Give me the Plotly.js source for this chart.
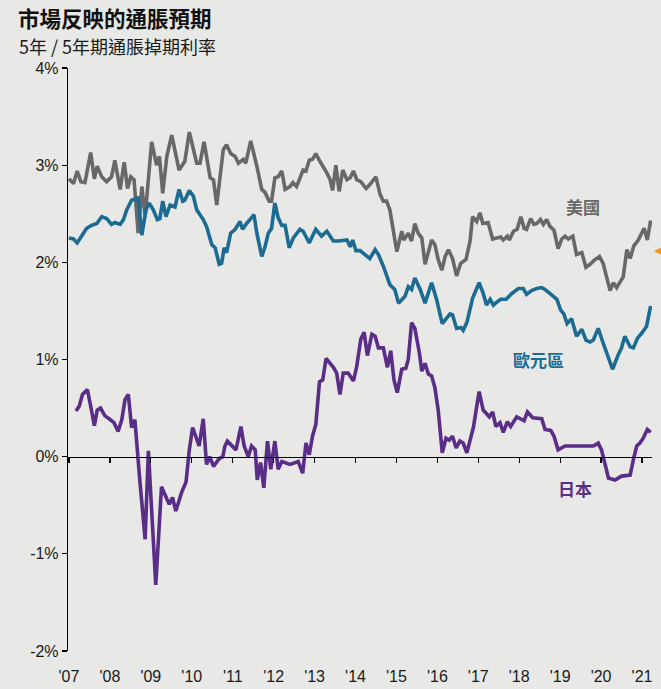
<!DOCTYPE html>
<html>
<head>
<meta charset="utf-8">
<script src="https://cdn.plot.ly/plotly-3.0.1.min.js"></script>
<style>
html,body{margin:0;padding:0;background:#e8e8e6;}
#chart{width:661px;height:689px;}
</style>
</head>
<body>
<div id="chart"></div>
<script>
// ---- Data (5y5y inflation swap rates, %) ----
const usYears = [2007.00,2007.11,2007.20,2007.29,2007.39,2007.53,2007.62,2007.69,2007.80,2007.92,2008.04,2008.12,2008.25,2008.35,2008.43,2008.51,2008.59,2008.69,2008.78,2008.86,2009.02,2009.14,2009.21,2009.29,2009.39,2009.51,2009.69,2009.83,2009.94,2010.12,2010.20,2010.30,2010.45,2010.53,2010.61,2010.77,2010.85,2010.95,2011.06,2011.14,2011.26,2011.32,2011.44,2011.59,2011.71,2011.79,2011.89,2011.95,2012.03,2012.11,2012.20,2012.28,2012.40,2012.47,2012.56,2012.72,2012.79,2012.87,2012.95,2013.03,2013.13,2013.30,2013.38,2013.44,2013.52,2013.60,2013.69,2013.79,2013.87,2013.95,2014.03,2014.13,2014.26,2014.35,2014.50,2014.60,2014.68,2014.76,2014.84,2015.01,2015.13,2015.18,2015.29,2015.37,2015.45,2015.53,2015.62,2015.70,2015.86,2015.94,2016.02,2016.11,2016.19,2016.27,2016.37,2016.47,2016.57,2016.70,2016.80,2016.86,2016.96,2017.04,2017.11,2017.24,2017.35,2017.45,2017.55,2017.61,2017.71,2017.76,2017.86,2017.95,2018.04,2018.12,2018.18,2018.28,2018.36,2018.43,2018.52,2018.59,2018.67,2018.75,2018.85,2018.95,2019.04,2019.12,2019.20,2019.31,2019.40,2019.53,2019.63,2019.73,2019.83,2019.96,2020.05,2020.14,2020.22,2020.30,2020.38,2020.54,2020.63,2020.71,2020.80,2020.91,2021.05,2021.13,2021.21];
const usValues = [2.86,2.81,2.94,2.83,2.82,3.13,2.86,2.99,2.88,2.83,2.88,3.05,2.75,3.03,2.76,2.88,2.85,2.30,2.78,2.47,3.24,3.00,3.09,2.71,3.09,3.31,2.95,3.04,3.34,3.02,3.02,3.24,2.87,2.85,2.59,3.16,3.21,3.12,3.09,3.02,3.06,3.02,3.25,2.99,2.75,2.72,2.63,2.63,2.87,2.88,2.94,2.75,2.78,2.82,2.78,2.95,2.94,3.05,3.06,3.12,3.04,2.92,2.85,2.74,3.00,2.73,2.95,2.85,2.87,2.94,2.85,2.83,2.76,2.80,2.88,2.70,2.63,2.63,2.54,2.11,2.32,2.23,2.30,2.22,2.40,2.30,2.25,1.98,2.23,2.18,2.03,1.92,2.06,2.13,2.04,1.86,1.99,2.03,2.22,2.47,2.42,2.51,2.40,2.41,2.24,2.25,2.26,2.23,2.27,2.23,2.32,2.34,2.47,2.35,2.34,2.45,2.39,2.40,2.44,2.39,2.44,2.37,2.33,2.14,2.24,2.27,2.24,2.27,2.08,2.10,1.95,1.98,2.02,2.06,1.99,1.84,1.71,1.79,1.74,1.85,2.13,2.04,2.17,2.23,2.35,2.23,2.43];

const euYears = [2007.00,2007.11,2007.20,2007.31,2007.43,2007.55,2007.68,2007.80,2007.92,2008.04,2008.12,2008.25,2008.33,2008.41,2008.53,2008.69,2008.78,2008.88,2008.96,2009.06,2009.16,2009.22,2009.29,2009.37,2009.47,2009.59,2009.69,2009.78,2009.83,2009.94,2010.04,2010.12,2010.28,2010.36,2010.49,2010.57,2010.67,2010.73,2010.79,2010.85,2010.95,2011.06,2011.18,2011.24,2011.34,2011.42,2011.52,2011.59,2011.71,2011.79,2011.87,2011.95,2012.03,2012.11,2012.20,2012.28,2012.38,2012.48,2012.64,2012.72,2012.87,2013.03,2013.17,2013.30,2013.46,2013.58,2013.79,2013.87,2013.93,2014.01,2014.11,2014.23,2014.35,2014.48,2014.56,2014.68,2014.84,2014.96,2015.05,2015.21,2015.29,2015.37,2015.45,2015.58,2015.70,2015.86,2015.98,2016.12,2016.31,2016.37,2016.47,2016.57,2016.63,2016.72,2016.86,2017.02,2017.12,2017.20,2017.29,2017.37,2017.45,2017.55,2017.68,2017.82,2017.98,2018.10,2018.18,2018.30,2018.43,2018.55,2018.63,2018.75,2018.92,2019.01,2019.09,2019.17,2019.28,2019.40,2019.53,2019.63,2019.73,2019.81,2019.93,2020.05,2020.28,2020.42,2020.50,2020.58,2020.71,2020.79,2020.89,2020.99,2021.11,2021.21];
const euValues = [2.25,2.24,2.20,2.27,2.35,2.38,2.40,2.47,2.45,2.39,2.41,2.39,2.44,2.54,2.64,2.66,2.28,2.54,2.61,2.54,2.44,2.45,2.63,2.47,2.59,2.57,2.75,2.63,2.64,2.74,2.68,2.54,2.44,2.37,2.18,2.15,1.98,1.99,2.15,2.10,2.30,2.34,2.42,2.34,2.40,2.44,2.49,2.30,2.06,2.16,2.30,2.35,2.61,2.46,2.38,2.38,2.15,2.25,2.34,2.32,2.20,2.34,2.27,2.32,2.22,2.22,2.23,2.16,2.23,2.12,2.12,2.08,2.04,2.13,2.08,1.96,1.77,1.72,1.58,1.65,1.75,1.72,1.84,1.72,1.58,1.79,1.62,1.37,1.47,1.46,1.32,1.33,1.30,1.38,1.63,1.79,1.68,1.56,1.62,1.56,1.59,1.62,1.62,1.68,1.73,1.73,1.67,1.71,1.73,1.74,1.72,1.68,1.62,1.51,1.47,1.37,1.42,1.24,1.31,1.20,1.18,1.20,1.32,1.17,0.90,1.05,1.12,1.24,1.13,1.12,1.22,1.27,1.34,1.55];

const jpYears = [2007.17,2007.25,2007.33,2007.45,2007.53,2007.62,2007.69,2007.77,2007.88,2007.98,2008.10,2008.20,2008.29,2008.37,2008.45,2008.53,2008.61,2008.73,2008.86,2008.94,2009.12,2009.26,2009.45,2009.53,2009.61,2009.75,2009.86,2009.94,2010.02,2010.18,2010.28,2010.36,2010.44,2010.53,2010.67,2010.76,2010.81,2010.87,2011.08,2011.20,2011.28,2011.38,2011.46,2011.55,2011.60,2011.68,2011.76,2011.85,2011.93,2012.03,2012.11,2012.20,2012.40,2012.60,2012.71,2012.79,2012.87,2012.95,2013.03,2013.12,2013.20,2013.28,2013.46,2013.54,2013.62,2013.70,2013.82,2013.95,2014.03,2014.13,2014.21,2014.29,2014.40,2014.48,2014.56,2014.68,2014.78,2014.86,2014.94,2015.02,2015.13,2015.23,2015.29,2015.37,2015.45,2015.56,2015.62,2015.70,2015.78,2015.86,2015.94,2016.02,2016.12,2016.21,2016.29,2016.37,2016.46,2016.55,2016.63,2016.72,2016.88,2017.02,2017.12,2017.27,2017.35,2017.43,2017.53,2017.61,2017.71,2017.79,2017.94,2018.12,2018.20,2018.33,2018.55,2018.63,2018.77,2018.85,2018.95,2019.12,2019.28,2019.61,2019.81,2019.93,2020.01,2020.18,2020.34,2020.50,2020.71,2020.79,2020.87,2020.95,2021.03,2021.13,2021.21];
const jpValues = [0.47,0.52,0.64,0.69,0.52,0.32,0.48,0.50,0.42,0.39,0.35,0.26,0.38,0.59,0.64,0.30,0.38,-0.24,-0.85,0.06,-1.32,-0.31,-0.49,-0.42,-0.56,-0.37,-0.26,0.07,0.30,0.11,0.39,-0.08,0.00,-0.10,-0.02,0.00,0.11,0.16,0.07,0.31,0.11,0.00,0.11,0.07,-0.24,-0.06,-0.32,0.16,-0.13,0.16,-0.13,-0.05,-0.08,-0.05,-0.17,0.14,0.02,0.21,0.33,0.77,0.79,1.01,0.92,0.86,0.64,0.86,0.86,0.78,0.93,1.21,1.28,1.04,1.26,1.24,1.12,1.12,0.92,1.09,0.79,0.66,0.90,0.91,1.00,1.38,1.32,1.07,0.88,0.96,0.85,0.83,0.71,0.48,0.04,0.19,0.17,0.21,0.09,0.16,0.14,0.04,0.30,0.67,0.48,0.41,0.46,0.31,0.35,0.25,0.36,0.31,0.41,0.37,0.46,0.40,0.39,0.28,0.27,0.21,0.07,0.11,0.11,0.11,0.11,0.14,0.07,-0.22,-0.24,-0.20,-0.19,-0.03,0.11,0.14,0.19,0.28,0.25];

// orange marker on the right edge (level, %)
const markerValue = [2.12];

const tickYears = [2007,2008,2009,2010,2011,2012,2013,2014,2015,2016,2017,2018,2019,2020,2021];
const tickLabels = ["'07","'08","'09","'10","'11","'12","'13","'14","'15","'16","'17","'18","'19","'20","'21"];
const yTicks = [-2,-1,0,1,2,3,4];
const yTickLabels = ["-2%","-1%","0%","1%","2%","3%","4%"];

const seriesNames = ["美國","歐元區","日本"];
const title = "市場反映的通脹預期";
const subtitle = "5年 / 5年期通脹掉期利率";

// ---- Styling ----
const BG = "#e8e8e6";
const C_US = "#686868", C_EU = "#1b6b93", C_JP = "#5a2d87", C_OR = "#f7941d";
const FONT = "Liberation Sans, Arial, Noto Sans CJK TC, sans-serif";
const CJK = "Noto Sans CJK TC, Liberation Sans, sans-serif";
const xRange = [2006.976, 2021.244];

const traces = [
  {x: usYears, y: usValues, type: "scatter", mode: "lines", name: seriesNames[0],
   line: {color: C_US, width: 3.6, simplify: false}, hoverinfo: "skip"},
  {x: euYears, y: euValues, type: "scatter", mode: "lines", name: seriesNames[1],
   line: {color: C_EU, width: 3.6, simplify: false}, hoverinfo: "skip"},
  {x: jpYears, y: jpValues, type: "scatter", mode: "lines", name: seriesNames[2], xaxis: "x2",
   line: {color: C_JP, width: 3.6, simplify: false}, hoverinfo: "skip"}
];

const layout = {
  width: 661, height: 689,
  paper_bgcolor: BG, plot_bgcolor: BG,
  showlegend: false,
  margin: {l: 68, r: 9, t: 68, b: 38, pad: 0},
  font: {family: FONT, size: 16, color: "#1a1a1a"},
  title: {text: "<b>" + title + "</b>", font: {family: CJK, size: 21.5, color: "#111"},
          x: 18/661, xref: "container", xanchor: "left",
          y: 1 - 19/689, yref: "container", yanchor: "middle"},
  xaxis: {range: xRange, tickvals: tickYears, ticktext: tickLabels,
          showline: false, showgrid: false, zeroline: false,
          ticks: "outside", ticklen: 11, tickcolor: "rgba(0,0,0,0)",
          tickfont: {family: FONT, size: 16, color: "#1a1a1a"}},
  xaxis2: {range: xRange, overlaying: "x", anchor: "free", position: 1/3,
           tickvals: tickYears, showticklabels: false, showgrid: false, zeroline: false,
           showline: true, linecolor: "#000", linewidth: 1.2,
           ticks: "outside", ticklen: 5, tickcolor: "#000", tickwidth: 1.2},
  yaxis: {range: [-2, 4], tickvals: yTicks, ticktext: yTickLabels,
          showgrid: false, zeroline: false, showline: true, linecolor: "#000", linewidth: 1.2,
          ticks: "outside", ticklen: 5, tickcolor: "#000", tickwidth: 1.2,
          tickfont: {family: FONT, size: 16, color: "#1a1a1a"}},
  annotations: [
    {text: subtitle, xref: "paper", yref: "paper", x: (18-68)/584, y: (651-46)/583,
     xanchor: "left", yanchor: "middle", showarrow: false, borderpad: 0,
     font: {family: CJK, size: 18, color: "#1a1a1a"}},
    {text: "<b>" + seriesNames[0] + "</b>", x: 2019.57, y: 2.57, showarrow: false,
     font: {family: CJK, size: 17, color: C_US}},
    {text: "<b>" + seriesNames[1] + "</b>", x: 2018.46, y: 1.00, showarrow: false,
     font: {family: CJK, size: 17, color: C_EU}},
    {text: "<b>" + seriesNames[2] + "</b>", x: 2019.37, y: -0.33, showarrow: false,
     font: {family: CJK, size: 17, color: C_JP}},
    {text: "◀", xref: "paper", yref: "y", x: (652-68)/584, y: markerValue[0],
     xanchor: "left", yanchor: "middle", showarrow: false,
     font: {family: "DejaVu Sans, sans-serif", size: 11, color: C_OR}}
  ]
};

Plotly.newPlot("chart", traces, layout, {staticPlot: true, displayModeBar: false});
</script>
</body>
</html>
